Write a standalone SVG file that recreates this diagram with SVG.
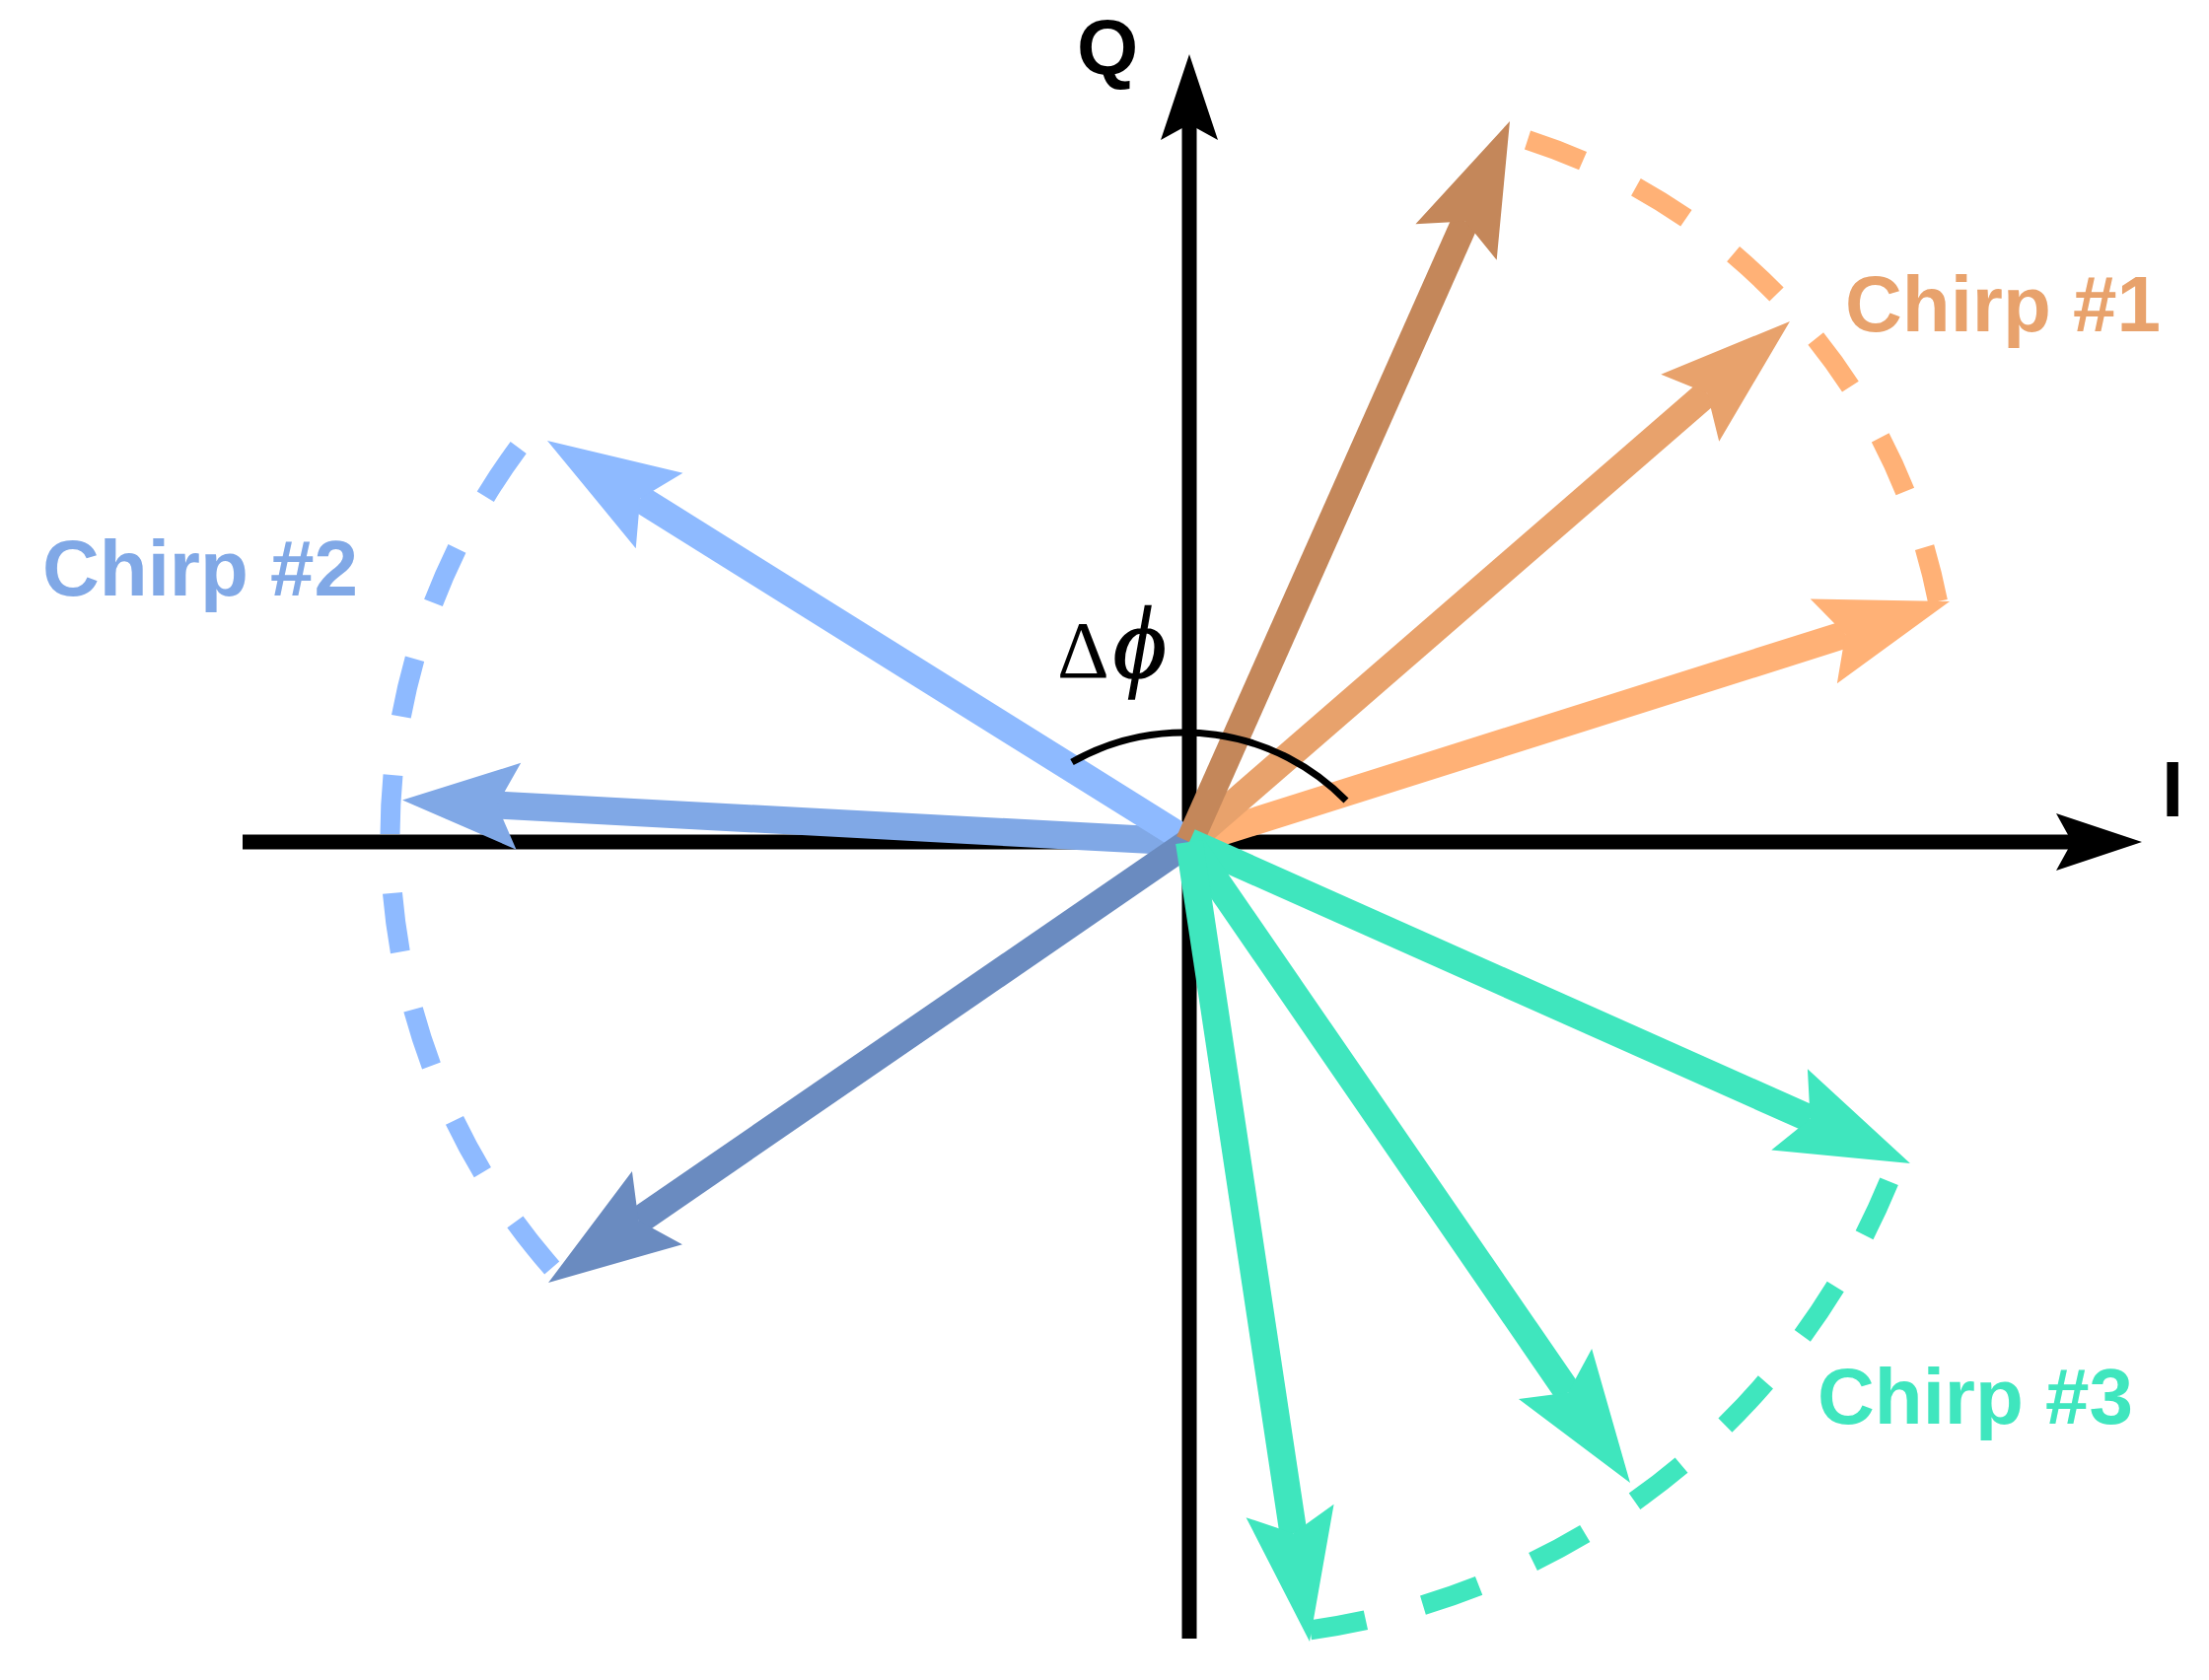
<svg xmlns="http://www.w3.org/2000/svg" width="2240" height="1704" viewBox="0 0 2240 1704">
<style>
.ax{stroke:#000;stroke-width:15;fill:none}
.sh{stroke-width:28;fill:none;stroke-linecap:butt}
.dash{stroke-width:20;fill:none;stroke-dasharray:60 60}
.lbl{font-family:"Liberation Sans",Arial,sans-serif;font-weight:bold;font-size:80px}
</style>
<defs>
<marker id="mAx" markerUnits="userSpaceOnUse" orient="auto" viewBox="-20 -35 95 70" markerWidth="95" markerHeight="70" refX="0" refY="0"><path d="M71,0 L-16,-29 L0,0 L-16,29 Z" fill="#000"/></marker>
<marker id="mBr" markerUnits="userSpaceOnUse" orient="auto" viewBox="-30 -50 150 100" markerWidth="150" markerHeight="100" refX="0" refY="0"><path d="M111,0 L-23,-45 L0,0 L-23,45 Z" fill="#C4875A"/></marker>
<marker id="mOr" markerUnits="userSpaceOnUse" orient="auto" viewBox="-30 -50 150 100" markerWidth="150" markerHeight="100" refX="0" refY="0"><path d="M111,0 L-23,-45 L0,0 L-23,45 Z" fill="#E8A26C"/></marker>
<marker id="mLo" markerUnits="userSpaceOnUse" orient="auto" viewBox="-30 -50 150 100" markerWidth="150" markerHeight="100" refX="0" refY="0"><path d="M111,0 L-23,-45 L0,0 L-23,45 Z" fill="#FFB176"/></marker>
<marker id="mLb" markerUnits="userSpaceOnUse" orient="auto" viewBox="-30 -50 150 100" markerWidth="150" markerHeight="100" refX="0" refY="0"><path d="M111,0 L-23,-45 L0,0 L-23,45 Z" fill="#8EBAFF"/></marker>
<marker id="mMb" markerUnits="userSpaceOnUse" orient="auto" viewBox="-30 -50 150 100" markerWidth="150" markerHeight="100" refX="0" refY="0"><path d="M96,0 L-22,-44 L0,0 L-22,44 Z" fill="#80A8E6"/></marker>
<marker id="mDb" markerUnits="userSpaceOnUse" orient="auto" viewBox="-30 -50 150 100" markerWidth="150" markerHeight="100" refX="0" refY="0"><path d="M111,0 L-23,-45 L0,0 L-23,45 Z" fill="#6A8BC0"/></marker>
<marker id="mTe" markerUnits="userSpaceOnUse" orient="auto" viewBox="-30 -50 150 100" markerWidth="150" markerHeight="100" refX="0" refY="0"><path d="M111,0 L-23,-45 L0,0 L-23,45 Z" fill="#3FE6BE"/></marker>
</defs>
<rect width="2240" height="1704" fill="#fff"/>
<g id="axes">
<line class="ax" x1="246" y1="854" x2="2101" y2="854" marker-end="url(#mAx)"/>
<line class="ax" x1="1206" y1="1662" x2="1206" y2="126" marker-end="url(#mAx)"/>
</g>
<g id="connectors">
<g id="chirp2-arrows">
<line class="sh" stroke="#80A8E6" x1="1206" y1="854" x2="503.9" y2="816.6" marker-end="url(#mMb)"/>
<line class="sh" stroke="#8EBAFF" x1="1206" y1="854" x2="649.1" y2="505.8" marker-end="url(#mLb)"/>
<line class="sh" stroke="#6A8BC0" x1="1206" y1="854" x2="647.5" y2="1238.1" marker-end="url(#mDb)"/>
</g>
<g id="chirp1-arrows">
<line class="sh" stroke="#FFB176" x1="1206" y1="854" x2="1871.2" y2="643.5" marker-end="url(#mLo)"/>
<line class="sh" stroke="#E8A26C" x1="1206" y1="854" x2="1731.1" y2="398.7" marker-end="url(#mOr)"/>
<line class="sh" stroke="#C4875A" x1="1206" y1="854" x2="1485.9" y2="224.4" marker-end="url(#mBr)"/>
</g>
<g id="chirp3-arrows">
<line class="sh" stroke="#3FE6BE" x1="1206" y1="854" x2="1835.6" y2="1134.8" marker-end="url(#mTe)"/>
<line class="sh" stroke="#3FE6BE" x1="1206" y1="854" x2="1590.1" y2="1412.5" marker-end="url(#mTe)"/>
<line class="sh" stroke="#3FE6BE" x1="1206" y1="854" x2="1311.5" y2="1555.2" marker-end="url(#mTe)"/>
</g>
<g id="dashed-arcs">
<path class="dash" stroke="#FFB176" d="M1549,142 A617,617 0 0 1 1965,610"/>
<path class="dash" stroke="#8EBAFF" d="M525.7,454 A664,664 0 0 0 559.7,1286"/>
<path class="dash" stroke="#3FE6BE" d="M1915.6,1198.3 A746,746 0 0 1 1328.6,1653.3"/>
</g>
<path id="phase-arc" d="M1087,773 A230,230 0 0 1 1365,812" fill="none" stroke="#000" stroke-width="7"/>
</g>
<g id="label-Q"><text class="lbl" x="1092" y="75" fill="#000">Q</text></g>
<g id="label-I"><text class="lbl" x="2192" y="828" fill="#000">I</text></g>
<g id="label-chirp1"><text class="lbl" x="1871" y="336" fill="#E8A26C">Chirp #1</text></g>
<g id="label-chirp2"><text class="lbl" x="43" y="604" fill="#80A8E6">Chirp #2</text></g>
<g id="label-chirp3"><text class="lbl" x="1843" y="1444" fill="#3FE6BE">Chirp #3</text></g>
<g id="label-dphi"><text x="1072" y="687" font-family="'Liberation Serif','Times New Roman',serif" font-size="82" fill="#000">Δ<tspan font-style="italic" font-size="104" dx="4" stroke="#000" stroke-width="1.5">ϕ</tspan></text></g>
</svg>
